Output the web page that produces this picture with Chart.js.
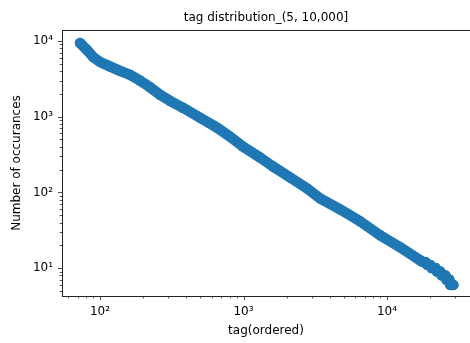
<!DOCTYPE html>
<html>
<head>
<meta charset="utf-8">
<script src="https://cdn.jsdelivr.net/npm/chart.js@4/dist/chart.umd.min.js"></script>
<style>
  html, body { margin: 0; padding: 0; background: #fff; overflow: hidden; }
  canvas { display: block; }
</style>
</head>
<body>
<canvas id="c" width="470" height="343"></canvas>
<script>
// ---- data ----
const tagRank = [72.6, 81.2, 89.4, 100, 117, 138, 162, 190, 223, 262, 307, 379, 498, 654, 805, 992,
  1303, 1606, 2109, 2770, 3413, 4705, 6484, 8940, 12320, 16980,
  17800, 18600, 19100, 20000, 20500, 21800, 22300, 23500, 24000, 25500, 26000, 27200, 27600, 29000];
const occurrences = [9400, 7600, 6160, 5290, 4620, 4030, 3570, 3000, 2450, 1950, 1620, 1310, 970, 717, 546, 403,
  289, 220, 158, 113, 83.4, 59.7, 41.5, 27.2, 18.9, 12.7,
  12, 12, 11, 11, 10, 10, 9, 9, 8, 8, 7, 7, 6, 6];

const xTickValues = [60, 70, 80, 90, 100, 200, 300, 400, 500, 600, 700, 800, 900,
  1000, 2000, 3000, 4000, 5000, 6000, 7000, 8000, 9000, 10000, 20000, 30000];
const yTickValues = [5, 6, 7, 8, 9, 10, 20, 30, 40, 50, 60, 70, 80, 90,
  100, 200, 300, 400, 500, 600, 700, 800, 900, 1000, 2000, 3000, 4000, 5000, 6000, 7000, 8000, 9000, 10000];
const xMajorTicks = [100, 1000, 10000];
const xMajorLabels = ['10²', '10³', '10⁴'];
const yMajorTicks = [10, 100, 1000, 10000];
const yMajorLabels = ['10¹', '10²', '10³', '10⁴'];

const titleText = 'tag distribution_(5, 10,000]';
const xTitle = 'tag(ordered)';
const yTitle = 'Number of occurances';

// ---- chart ----
const BLUE = '#1f77b4';
const FONT = 'DejaVu Sans';
const AXIS = '#222';

const points = tagRank.map((x, i) => ({ x: x, y: occurrences[i] }));

function isMajor(v, list) { return list.some(m => Math.abs(m - v) < 1e-9); }

const frame = {
  id: 'frame',
  afterDraw(chart) {
    const { ctx, chartArea: a } = chart;
    const xs = chart.scales.x, ys = chart.scales.y;
    ctx.save();
    ctx.strokeStyle = AXIS;
    ctx.lineWidth = 1;
    ctx.beginPath();
    ctx.moveTo(a.left, a.top + 0.5);
    ctx.lineTo(a.right, a.top + 0.5);
    ctx.stroke();
    ctx.lineWidth = 0.8;
    ctx.beginPath();
    xs.ticks.forEach(t => {
      const px = Math.round(xs.getPixelForValue(t.value)) + 0.5;
      if (px < a.left || px > a.right) return;
      const len = isMajor(t.value, xMajorTicks) ? 4 : 2.3;
      ctx.moveTo(px, a.bottom);
      ctx.lineTo(px, a.bottom + len);
    });
    ys.ticks.forEach(t => {
      const py = Math.round(ys.getPixelForValue(t.value)) + 0.5;
      if (py < a.top || py > a.bottom) return;
      const len = isMajor(t.value, yMajorTicks) ? 4 : 2.3;
      ctx.moveTo(a.left, py);
      ctx.lineTo(a.left - len, py);
    });
    ctx.stroke();
    ctx.restore();
  }
};

new Chart(document.getElementById('c'), {
  type: 'scatter',
  data: {
    datasets: [{
      data: points,
      showLine: true,
      borderColor: BLUE,
      backgroundColor: BLUE,
      borderWidth: 10.5,
      borderCapStyle: 'round',
      borderJoinStyle: 'round',
      pointRadius: 5.2,
      pointBorderWidth: 0,
      pointHoverRadius: 5.2
    }]
  },
  options: {
    responsive: false,
    animation: false,
    layout: { padding: 0, autoPadding: false },
    plugins: {
      legend: { display: false },
      tooltip: { enabled: false },
      title: {
        display: true,
        text: titleText,
        fullSize: false,
        color: '#000',
        font: { family: FONT, size: 12, weight: 'normal' },
        padding: { top: 11, bottom: 4.6 }
      }
    },
    scales: {
      x: {
        type: 'logarithmic',
        min: 54.34,
        max: 37870,
        afterBuildTicks: s => { s.ticks = xTickValues.map(v => ({ value: v })); },
        afterFit: s => { s.height = 47; s.paddingLeft = 0; s.paddingRight = 0; },
        ticks: {
          autoSkip: false,
          maxRotation: 0,
          padding: 5,
          color: '#000',
          font: { family: FONT, size: 12 },
          callback: v => { const i = xMajorTicks.findIndex(m => Math.abs(m - v) < 1e-9); return i >= 0 ? xMajorLabels[i] : ''; }
        },
        grid: { display: true, drawOnChartArea: false, drawTicks: true, tickLength: 4, color: 'rgba(0,0,0,0)', tickColor: 'rgba(0,0,0,0)' },
        border: { display: true, color: AXIS, width: 1 },
        title: { display: true, text: xTitle, color: '#000', font: { family: FONT, size: 12 }, padding: { top: 0, bottom: 5 } }
      },
      y: {
        type: 'logarithmic',
        min: 4.28,
        max: 13960,
        afterBuildTicks: s => { s.ticks = yTickValues.map(v => ({ value: v })); },
        afterFit: s => { s.width = 62; s.paddingTop = 0; s.paddingBottom = 0; },
        ticks: {
          autoSkip: false,
          padding: 5,
          color: '#000',
          font: { family: FONT, size: 12 },
          callback: v => { const i = yMajorTicks.findIndex(m => Math.abs(m - v) < 1e-9); return i >= 0 ? yMajorLabels[i] : ''; }
        },
        grid: { display: true, drawOnChartArea: false, drawTicks: true, tickLength: 4, color: 'rgba(0,0,0,0)', tickColor: 'rgba(0,0,0,0)' },
        border: { display: true, color: AXIS, width: 1 },
        title: { display: true, text: yTitle, color: '#000', font: { family: FONT, size: 12 }, padding: { top: 10, bottom: 0 } }
      }
    }
  },
  plugins: [frame]
});
</script>
</body>
</html>
